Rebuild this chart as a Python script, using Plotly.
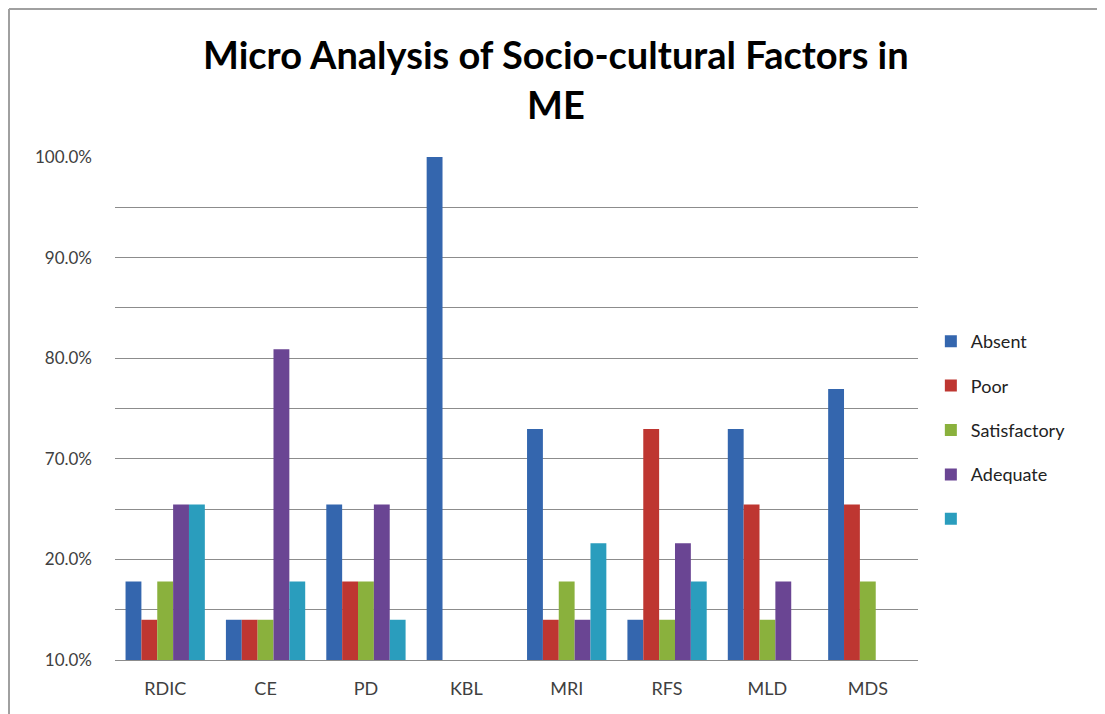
import plotly.graph_objects as go

categories = ["RDIC", "CE", "PD", "KBL", "MRI", "RFS", "MLD", "MDS"]
series_names = ["Absent", "Poor", "Satisfactory", "Adequate", " "]
absent = [15.6, 8.0, 30.9, 100.0, 45.9, 8.0, 45.9, 53.9]
poor = [8.0, 8.0, 15.6, 0, 8.0, 45.9, 30.9, 30.9]
satisfactory = [15.6, 8.0, 15.6, 0, 15.6, 8.0, 8.0, 15.6]
adequate = [30.9, 61.8, 30.9, 0, 8.0, 23.2, 15.6, 0]
unnamed = [30.9, 15.6, 8.0, 0, 23.2, 15.6, 0, 0]
colors = ["#3466AE", "#BE3631", "#8AB13D", "#6A4593", "#2A9DBD"]

tick_vals = [0, 10, 20, 30, 40, 50, 60, 70, 80, 90, 100]
tick_text = ["10.0%", "", "20.0%", "", "70.0%", "", "80.0%", "", "90.0%", "", "100.0%"]
title_lines = ["Micro Analysis of Socio-cultural Factors in", "ME"]

FONT = "Lato"
fig = go.Figure()
for i, (name, vals) in enumerate(zip(series_names, [absent, poor, satisfactory, adequate, unnamed])):
    fig.add_trace(go.Bar(
        x=categories, y=vals, name=name, marker_color=colors[i],
        marker_line_width=0, legendgroup=f"g{i}",
    ))

fig.update_layout(
    width=1097, height=706,
    margin=dict(l=107, r=187, t=149, b=54),
    paper_bgcolor="white", plot_bgcolor="white",
    barmode="group", bargap=0.21, bargroupgap=0,
    font=dict(family=FONT, size=18, color="#404040"),
    legend=dict(
        x=1.016, xanchor="left", y=0.67, yanchor="top",
        font=dict(family=FONT, size=18, color="#222222"),
        traceorder="grouped", tracegroupgap=18,
        bgcolor="rgba(0,0,0,0)",
    ),
    showlegend=True,
)
fig.add_annotation(text="<b>" + title_lines[0] + "</b>", xref="paper", yref="paper",
                   x=0.549, y=1.2038, xanchor="center", yanchor="middle", showarrow=False,
                   font=dict(family=FONT, size=38, color="#000000"))
fig.add_annotation(text="<b>" + title_lines[1] + "</b>", xref="paper", yref="paper",
                   x=0.549, y=1.1054, xanchor="center", yanchor="middle", showarrow=False,
                   font=dict(family=FONT, size=38, color="#000000"))
fig.update_yaxes(
    range=[0, 100], tickvals=tick_vals, ticktext=tick_text,
    showgrid=True, gridcolor="#8C8C8C", gridwidth=1,
    zeroline=False, showline=False, ticks="", ticklen=0,
    ticklabelstandoff=22,
    tickfont=dict(family=FONT, size=17, color="#404040"),
)
fig.update_xaxes(
    showgrid=False, showline=True, linecolor="#8C8C8C", ticks="",
    ticklabelstandoff=12,
    tickfont=dict(family=FONT, size=18, color="#404040"),
)
fig.add_shape(type="line", xref="paper", yref="paper",
              x0=-0.132, x1=-0.132, y0=-0.2, y1=1.294,
              line=dict(color="#A0A0A0", width=2), layer="below")
fig.add_shape(type="line", xref="paper", yref="paper",
              x0=-0.132, x1=1.3, y0=1.294, y1=1.294,
              line=dict(color="#A0A0A0", width=2), layer="below")
fig.write_html("out.html")
